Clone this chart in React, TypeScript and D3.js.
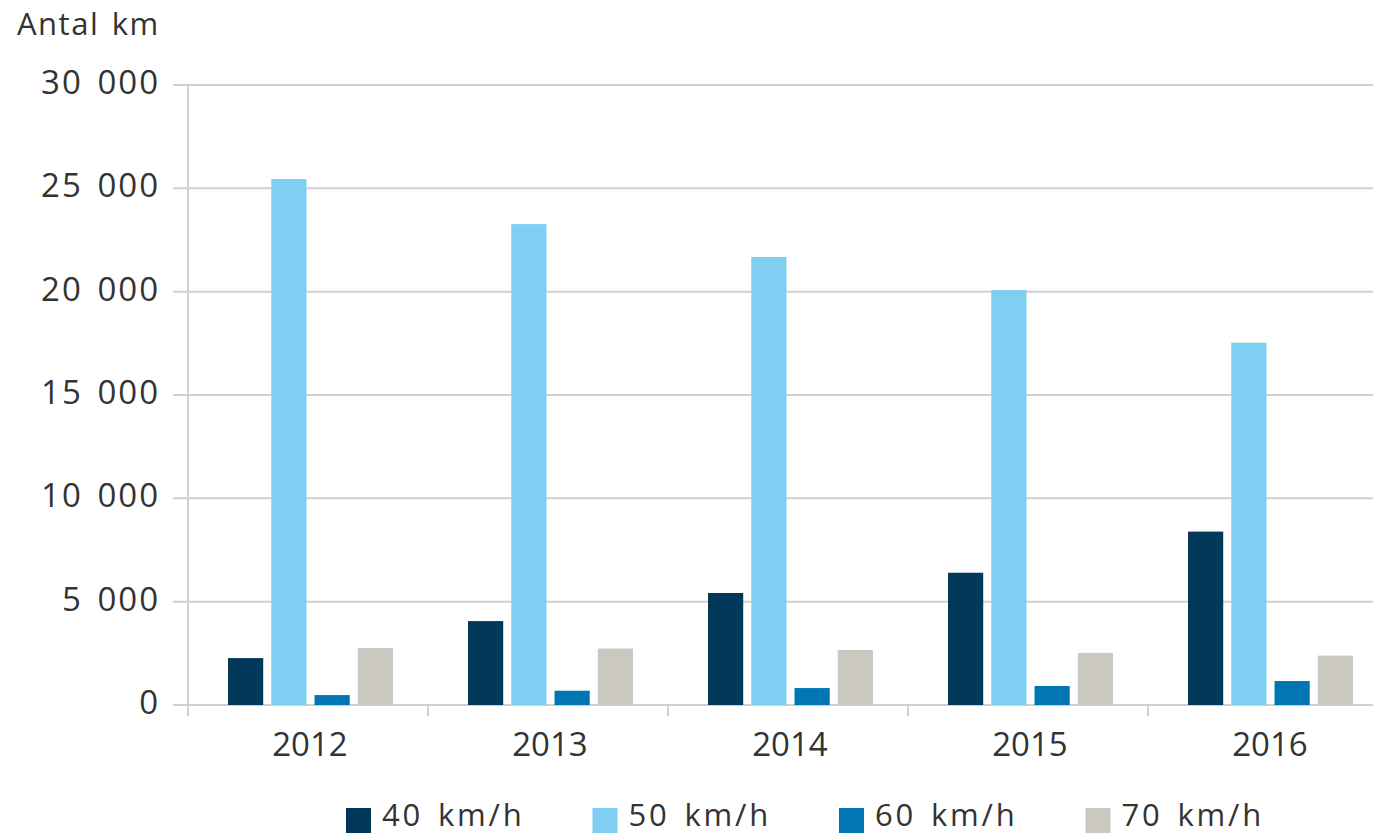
import React, { useEffect } from "react";
import * as d3 from "d3";

const years = ["2012", "2013", "2014", "2015", "2016"];
const seriesNames = ["40 km/h", "50 km/h", "60 km/h", "70 km/h"];
const kmh40 = [2270, 4060, 5420, 6400, 8390];
const kmh50 = [25450, 23270, 21680, 20080, 17530];
const kmh60 = [480, 690, 820, 920, 1160];
const kmh70 = [2760, 2730, 2660, 2520, 2390];
const yTicks = [0, 5000, 10000, 15000, 20000, 25000, 30000];
const yTitle = "Antal km";

const colors = ["#02385a", "#7fcff3", "#0077b4", "#cbc7c1"];
const W = 1373;
const H = 834;
const FONT = "'Open Sans', sans-serif";
const TEXT = "#333333";
const GRID = "#d3cfca";

export default function App() {
  useEffect(() => {
    document.body.style.margin = "0";
  }, []);

  const seriesValues = [kmh40, kmh50, kmh60, kmh70];
  const y = d3.scaleLinear().domain([0, 30000]).range([705, 85]);
  const x = d3.scaleBand<string>().domain(years).range([188, 1388]).padding(0);
  const xInner = d3
    .scaleBand<string>()
    .domain(seriesNames)
    .range([40, 205])
    .paddingInner(0.186)
    .paddingOuter(0);
  const fmt = (v: number) => d3.format(",")(v).replace(/,/g, " ");
  const boundaries = years.map((yr) => x(yr) as number);

  return (
    <svg
      width={W}
      height={H}
      style={{ display: "block", position: "absolute", left: 0, top: 0, background: "#fff" }}
      fontFamily={FONT}
    >
      <rect x={0} y={0} width={W} height={H} fill="#fff" />
      <text x={17} y={35} fontSize={31} fill={TEXT} letterSpacing={1.5} wordSpacing={3}>
        {yTitle}
      </text>
      {yTicks.map((t) => (
        <g key={t}>
          <line x1={173} x2={W} y1={y(t)} y2={y(t)} stroke={GRID} strokeWidth={2} />
          <text
            x={160}
            y={y(t) + 9}
            fontSize={33}
            fill={TEXT}
            textAnchor="end"
            letterSpacing={2}
            wordSpacing={4}
          >
            {fmt(t)}
          </text>
        </g>
      ))}
      <line x1={188} x2={188} y1={y(30000)} y2={716} stroke={GRID} strokeWidth={2} />
      {boundaries.map((b, i) => (
        <line key={i} x1={b} x2={b} y1={705} y2={716} stroke={GRID} strokeWidth={2} />
      ))}
      {years.map((yr, i) => (
        <g key={yr} transform={`translate(${x(yr)},0)`}>
          {seriesNames.map((s, j) => {
            const v = seriesValues[j][i];
            return (
              <rect
                key={s}
                x={xInner(s)}
                y={y(v)}
                width={xInner.bandwidth()}
                height={y(0) - y(v)}
                fill={colors[j]}
              />
            );
          })}
          <text
            x={x.bandwidth() / 2 + 2}
            y={756}
            fontSize={33}
            fill={TEXT}
            textAnchor="middle"
          >
            {yr}
          </text>
        </g>
      ))}
      {seriesNames.map((s, j) => {
        const lx = 346 + j * 246.5;
        return (
          <g key={s}>
            <rect x={lx} y={808} width={25} height={25} fill={colors[j]} />
            <text x={lx + 36} y={826} fontSize={31} fill={TEXT} letterSpacing={2.8} wordSpacing={4}>
              {s}
            </text>
          </g>
        );
      })}
    </svg>
  );
}
